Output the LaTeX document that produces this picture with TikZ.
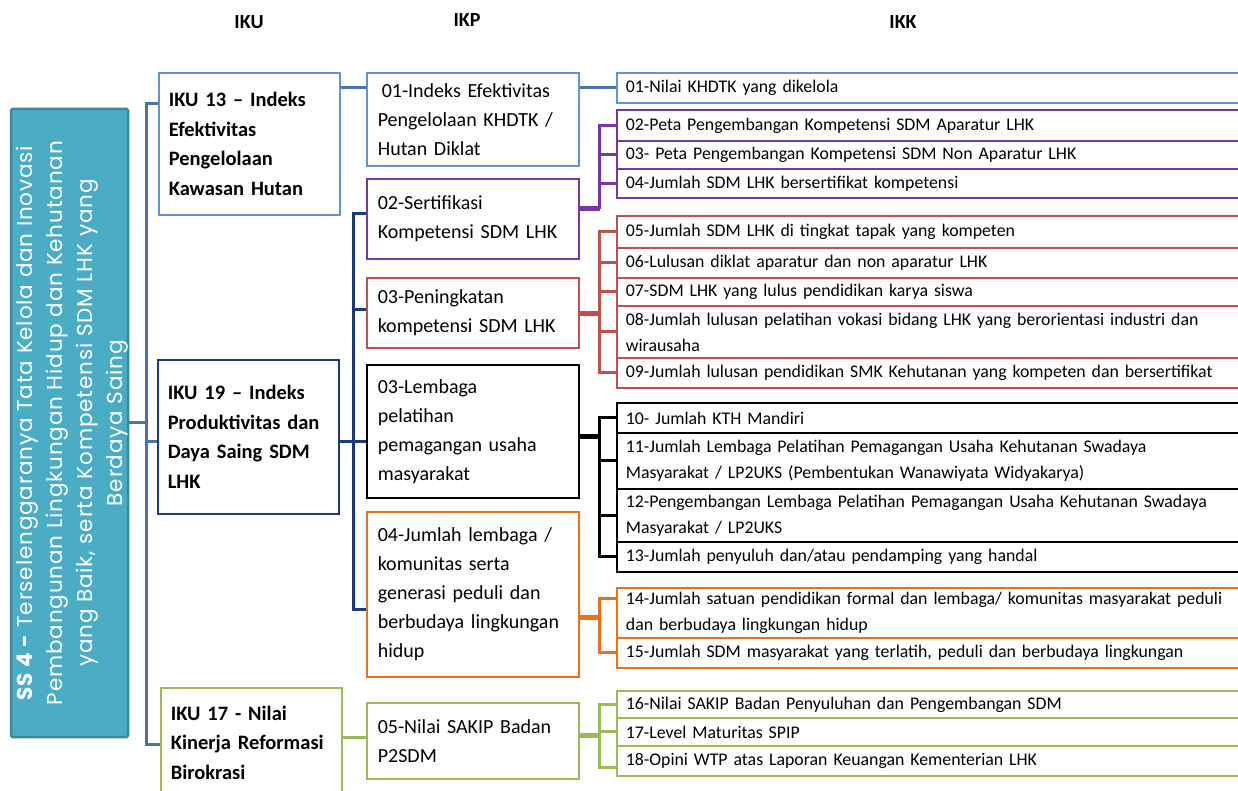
\documentclass[tikz,border=0pt]{standalone}
\usepackage{fontspec}
\setmainfont{Carlito}
\newfontfamily\ssfont[LetterSpace=4]{Poppins}
\usetikzlibrary{calc}
\definecolor{lblue}{HTML}{5F93D3}
\definecolor{sblue}{HTML}{4A74B0}
\definecolor{navyc}{HTML}{1B3A7C}
\definecolor{purp}{HTML}{7A35A8}
\definecolor{redc}{HTML}{C0504D}
\definecolor{orng}{HTML}{E8711A}
\definecolor{grn}{HTML}{9BBB59}
\definecolor{tealf}{HTML}{4BACC6}
\definecolor{teald}{HTML}{3A8A9E}
\begin{document}
\begin{tikzpicture}[x=1pt,y=-1pt,
  base/.style={draw, fill=white, anchor=north west, inner ysep=0pt, align=left},
  ikubox/.style={base, line width=1.6pt, inner xsep=10pt, text width=161pt, minimum width=181pt, font=\bfseries\fontsize{20.5}{29.5}\selectfont},
  ikpbox/.style={base, line width=1.6pt, inner xsep=11pt, text width=190pt, minimum width=212pt, font=\fontsize{20}{29}\selectfont},
  ikkbox/.style={base, line width=1.8pt, inner xsep=9pt, text width=682pt, minimum width=700pt, font=\fontsize{17.8}{26}\selectfont},
  hdr/.style={font=\bfseries\fontsize{20}{22}\selectfont},
  conn/.style={line width=3pt},
  exitl/.style={line width=5pt},
]
\useasboundingbox (0,0) rectangle (1238,791);
\fill[white] (0,0) rectangle (1238,791);

% headers
\node[hdr] (hiku) at (249,22) {IKU};
\node[hdr] (hikp) at (467,20) {IKP};
\node[hdr] (hikk) at (903,22) {IKK};

% SS4 bar
\node[draw=teald, fill=tealf, line width=2.5pt, rounded corners=1.5pt, minimum width=117pt, minimum height=628pt, inner sep=0pt] (ss4) at (69.5,423) {};
\node[rotate=90, text=white, align=center, inner sep=0pt, font=\ssfont\fontsize{21.5}{30}\selectfont] (ss4txt) at (72,423)
  {\textbf{SS 4 -} Terselenggaranya Tata Kelola dan Inovasi\\Pembangunan Lingkungan Hidup dan Kehutanan\\yang Baik, serta Kompetensi SDM LHK yang\\Berdaya Saing};

% IKU boxes
\node[ikubox, draw=lblue, minimum height=142pt] (iku13) at (158,72) {IKU 13 – Indeks\\Efektivitas\\Pengelolaan\\Kawasan Hutan};
\node[ikubox, draw=navyc, minimum height=154pt] (iku19) at (157,359) {IKU 19 – Indeks\\\mbox{Produktivitas dan}\\\mbox{Daya Saing SDM}\\LHK};
\node[ikubox, draw=grn, minimum height=110pt] (iku17) at (160,687) {IKU 17 - Nilai\\\mbox{Kinerja Reformasi}\\Birokrasi};

% IKP boxes
\node[ikpbox, draw=lblue, minimum height=93pt] (ikp01) at (366,72) {\hspace*{4pt}01-Indeks Efektivitas\\Pengelolaan KHDTK /\\Hutan Diklat};
\node[ikpbox, draw=purp, minimum height=80pt] (ikp02) at (366,178) {02-Sertifikasi\\Kompetensi SDM LHK};
\node[ikpbox, draw=redc, minimum height=70pt] (ikp03) at (366,277) {03-Peningkatan\\kompetensi SDM LHK};
\node[ikpbox, draw=black, minimum height=133pt] (lem) at (366,364) {03-Lembaga\\pelatihan\\pemagangan usaha\\masyarakat};
\node[ikpbox, draw=orng, minimum height=165pt] (ikp04) at (366,511) {04-Jumlah lembaga /\\komunitas serta\\generasi peduli dan\\\mbox{berbudaya lingkungan}\\hidup};
\node[ikpbox, draw=grn, minimum height=76pt] (ikp05) at (366,702) {05-Nilai SAKIP Badan\\P2SDM};

% IKK boxes
\node[ikkbox, draw=lblue, minimum height=30pt] (k01) at (616,72) {01-Nilai KHDTK yang dikelola};
\node[ikkbox, draw=purp, minimum height=31pt] (k02) at (616,109) {02-Peta Pengembangan Kompetensi SDM Aparatur LHK};
\node[ikkbox, draw=purp, minimum height=28pt] (k03) at (616,140) {03- Peta Pengembangan Kompetensi SDM Non Aparatur LHK};
\node[ikkbox, draw=purp, minimum height=29pt] (k04) at (616,168) {04-Jumlah SDM LHK bersertifikat kompetensi};
\node[ikkbox, draw=redc, minimum height=32pt] (k05) at (616,215) {05-Jumlah SDM LHK di tingkat tapak yang kompeten};
\node[ikkbox, draw=redc, minimum height=30pt] (k06) at (616,247) {06-Lulusan diklat aparatur dan non aparatur LHK};
\node[ikkbox, draw=redc, minimum height=28pt] (k07) at (616,277) {07-SDM LHK yang lulus pendidikan karya siswa};
\node[ikkbox, draw=redc, minimum height=52pt] (k08) at (616,305) {08-Jumlah lulusan pelatihan vokasi bidang LHK yang berorientasi industri dan\\wirausaha};
\node[ikkbox, draw=redc, minimum height=30pt] (k09) at (616,357) {09-Jumlah lulusan pendidikan SMK Kehutanan yang kompeten dan bersertifikat};
\node[ikkbox, draw=black, minimum height=30pt] (k10) at (616,402) {10- Jumlah KTH Mandiri};
\node[ikkbox, draw=black, minimum height=56pt] (k11) at (616,432) {11-Jumlah Lembaga Pelatihan Pemagangan Usaha Kehutanan Swadaya\\Masyarakat / LP2UKS (Pembentukan Wanawiyata Widyakarya)};
\node[ikkbox, draw=black, minimum height=53pt] (k12) at (616,488) {12-Pengembangan Lembaga Pelatihan Pemagangan Usaha Kehutanan Swadaya\\Masyarakat / LP2UKS};
\node[ikkbox, draw=black, minimum height=30pt] (k13) at (616,541) {13-Jumlah penyuluh dan/atau pendamping yang handal};
\node[ikkbox, draw=orng, minimum height=50pt] (k14) at (616,587) {14-Jumlah satuan pendidikan formal dan lembaga/ komunitas masyarakat peduli\\dan berbudaya lingkungan hidup};
\node[ikkbox, draw=orng, minimum height=30pt] (k15) at (616,637) {15-Jumlah SDM masyarakat yang terlatih, peduli dan berbudaya lingkungan};
\node[ikkbox, draw=grn, minimum height=27pt] (k16) at (616,690) {16-Nilai SAKIP Badan Penyuluhan dan Pengembangan SDM};
\node[ikkbox, draw=grn, minimum height=28pt] (k17) at (616,717) {17-Level Maturitas SPIP};
\node[ikkbox, draw=grn, minimum height=30pt] (k18) at (616,745) {18-Opini WTP atas Laporan Keuangan Kementerian LHK};

% IKU trunk
\draw[conn, draw=sblue] ([yshift=40pt]iku13.west) -- ++(-12,0) |- ([yshift=-2pt]iku17.west);
\draw[conn, draw=sblue] ([yshift=-5pt]iku19.west) -- ++(-11,0);
\draw[conn, draw=sblue] ([yshift=1pt]ss4.east) -- ++(18,0);

% IKU13 -> IKP01 -> IKK01
\draw[conn, draw=sblue] (iku13.east |- k01.west) -- (ikp01.west |- k01.west);
\draw[conn, draw=sblue] (ikp01.east |- k01.west) -- (k01.west);

% IKP trunk
\draw[conn, draw=navyc] ([yshift=5pt]ikp02.west) -- ++(-13,0) |- ([yshift=-15.5pt]ikp04.west);
\draw[conn, draw=navyc] ([yshift=3pt]ikp03.west) -- ++(-13,0);
\draw[conn, draw=navyc] ([yshift=-5pt]iku19.east) -- ([yshift=-10.5pt]lem.west);

% IKP02 -> IKK 02..04
\draw[exitl, draw=purp] ([yshift=10pt]ikp02.east) -- ++(20,0) coordinate (pj);
\foreach \k in {k02,k03,k04} \draw[conn, draw=purp] (pj) |- (\k.west);

% IKP03 -> IKK 05..09
\draw[exitl, draw=redc] ([yshift=-1pt]ikp03.east) -- ++(20,0) coordinate (rj);
\foreach \k in {k05,k06,k07,k08,k09} \draw[conn, draw=redc] (rj) |- (\k.west);

% Lembaga -> IKK 10..13
\draw[exitl, draw=black] ([yshift=-5.5pt]lem.east) -- ++(20,0) coordinate (bj);
\foreach \k in {k10,k11,k12,k13} \draw[conn, draw=black] (bj) |- (\k.west);

% IKP04 -> IKK 14..15
\draw[exitl, draw=orng] ([yshift=-23.5pt]ikp04.east) -- ++(20,0) coordinate (oj);
\draw[conn, draw=orng] (oj) |- ([yshift=14pt]k14.west);
\draw[conn, draw=orng] (oj) |- (k15.west);

% IKU17 -> IKP05 -> IKK 16..18
\draw[conn, draw=grn] ([yshift=5pt]iku17.east) -- ([yshift=3pt]ikp05.west);
\draw[exitl, draw=grn] ([yshift=5pt]ikp05.east) -- ++(20,0) coordinate (gj);
\draw[conn, draw=grn] (gj) |- (k16.west);
\draw[conn, draw=grn] (gj) |- (k17.west);
\draw[conn, draw=grn] (gj) |- ([yshift=-7pt]k18.west);
\end{tikzpicture}
\end{document}
